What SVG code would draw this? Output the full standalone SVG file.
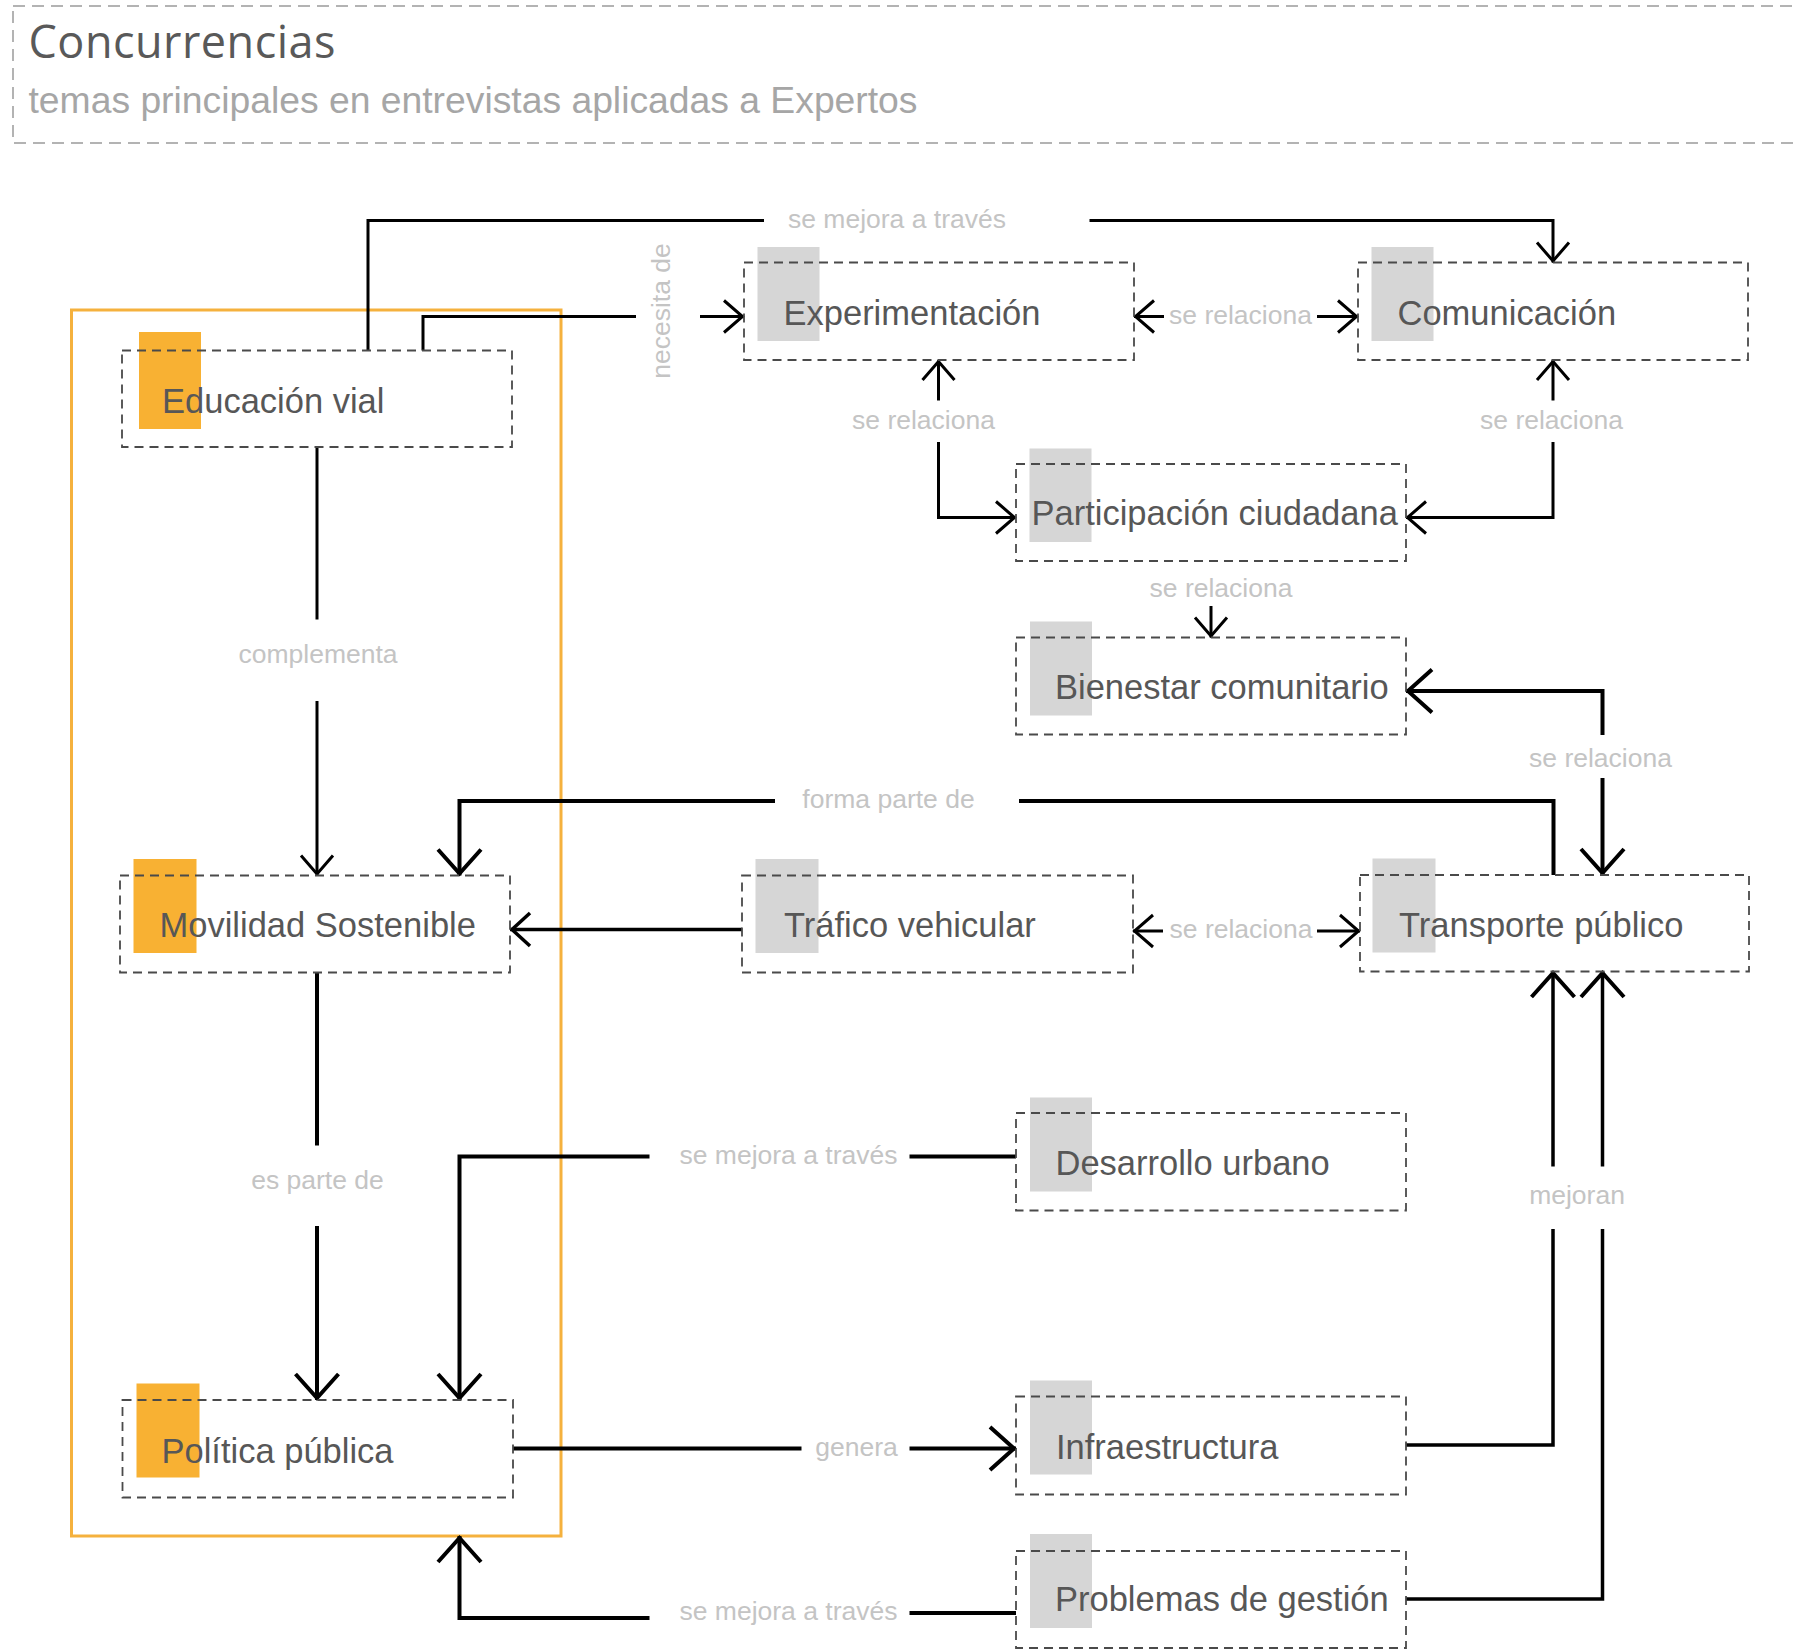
<svg xmlns="http://www.w3.org/2000/svg" width="1796" height="1652" viewBox="0 0 1796 1652">
  <style>
    .hdr { fill: none; stroke: #b3b3b3; stroke-width: 2; stroke-dasharray: 12 7; }
    .title { font-family: "Open Sans", "Noto Sans", sans-serif; font-size: 45px; fill: #595959; }
    .sub { font-family: "Liberation Sans", Arial, sans-serif; font-size: 37.3px; fill: #a6a6a6; }
    .group { fill: none; stroke: #f5b13d; stroke-width: 3; }
    .box { fill: none; stroke: #4a4a4a; stroke-width: 1.8; stroke-dasharray: 9 6; }
    .tag-o { fill: #f8b133; }
    .tag-g { fill: #d6d6d6; }
    .nt { font-family: "Liberation Sans", Arial, sans-serif; font-size: 34.5px; fill: #575757; }
    .lbl { font-family: "Liberation Sans", Arial, sans-serif; font-size: 26.5px; fill: #c4c4c4; text-anchor: middle; }
    .ln { fill: none; stroke: #000; stroke-width: 3; }
    .ln4 { stroke-width: 4; }
    .ln35 { stroke-width: 3.5; }
  </style>
  <defs>
    <marker id="arrS" markerUnits="userSpaceOnUse" viewBox="-30 -25 36 50" markerWidth="36" markerHeight="50" refX="0" refY="0" orient="auto-start-reverse" overflow="visible">
      <path d="M-20,-16 L-1.5,0 L-20,16" fill="none" stroke="#000" stroke-width="3"/>
    </marker>
    <marker id="arrM" markerUnits="userSpaceOnUse" viewBox="-30 -25 36 50" markerWidth="36" markerHeight="50" refX="0" refY="0" orient="auto-start-reverse" overflow="visible">
      <path d="M-20,-16.5 L-2,0 L-20,16.5" fill="none" stroke="#000" stroke-width="3.5"/>
    </marker>
    <marker id="arrL" markerUnits="userSpaceOnUse" viewBox="-34 -30 40 60" markerWidth="40" markerHeight="60" refX="0" refY="0" orient="auto-start-reverse" overflow="visible">
      <path d="M-26,-21.5 L-2,0 L-26,21.5" fill="none" stroke="#000" stroke-width="4"/>
    </marker>
  </defs>

  <!-- header -->
  <g id="header">
    <rect class="hdr" x="13" y="6" width="1800" height="137"/>
    <text class="title" x="28.5" y="58" textLength="307">Concurrencias</text>
    <text class="sub" x="28.5" y="113" textLength="889">temas principales en entrevistas aplicadas a Expertos</text>
  </g>

  <!-- orange grouping frame -->
  <rect id="grupo-politica" class="group" x="71.5" y="310" width="489.5" height="1226"/>

  <!-- connectors -->
  <g id="connectors">
    <!-- Educación vial -> Comunicación -->
    <path class="ln" d="M368,350.5 V220.5 H764"/>
    <path class="ln" d="M1089.5,220.5 H1553 V262.5" marker-end="url(#arrS)"/>
    <text class="lbl" x="897" y="227.5">se mejora a través</text>

    <!-- Educación vial -> Experimentación -->
    <path class="ln" d="M423,350.5 V316.5 H636"/>
    <path class="ln" d="M700,316.5 H744" marker-end="url(#arrS)"/>
    <text class="lbl" transform="translate(670,311) rotate(-90)">necesita de</text>

    <!-- Experimentación <-> Comunicación -->
    <path class="ln" d="M1134,316.5 H1164" marker-start="url(#arrS)"/>
    <path class="ln" d="M1317,316.5 H1358" marker-end="url(#arrS)"/>
    <text class="lbl" x="1240.5" y="323.5">se relaciona</text>

    <!-- Experimentación <-> Participación ciudadana -->
    <path class="ln" d="M938.5,360 V400.5" marker-start="url(#arrS)"/>
    <path class="ln" d="M938.5,442 V517.5 H1016" marker-end="url(#arrS)"/>
    <text class="lbl" x="923.5" y="429">se relaciona</text>

    <!-- Comunicación <-> Participación ciudadana -->
    <path class="ln" d="M1553,360 V400.5" marker-start="url(#arrS)"/>
    <path class="ln" d="M1553,442 V517.5 H1406" marker-end="url(#arrS)"/>
    <text class="lbl" x="1551.5" y="429">se relaciona</text>

    <!-- Participación ciudadana -> Bienestar comunitario -->
    <text class="lbl" x="1221" y="596.5">se relaciona</text>
    <path class="ln" d="M1211,606 V637.5" marker-end="url(#arrS)"/>

    <!-- Transporte público <-> Bienestar comunitario -->
    <path class="ln ln4" d="M1406,691 H1602.5 V735" marker-start="url(#arrL)"/>
    <path class="ln ln4" d="M1602.5,778 V875" marker-end="url(#arrL)"/>
    <text class="lbl" x="1600.5" y="767">se relaciona</text>

    <!-- Transporte público -> Movilidad Sostenible -->
    <path class="ln ln4" d="M1553.5,875 V801 H1019"/>
    <path class="ln ln4" d="M775,801 H459.5 V875.5" marker-end="url(#arrL)"/>
    <text class="lbl" x="888.5" y="808">forma parte de</text>

    <!-- Educación vial -> Movilidad Sostenible -->
    <path class="ln" d="M317,447 V619.5"/>
    <path class="ln" d="M317,701 V875.5" marker-end="url(#arrS)"/>
    <text class="lbl" x="318" y="663">complementa</text>

    <!-- Tráfico vehicular -> Movilidad Sostenible -->
    <path class="ln ln35" d="M742,929.5 H510" marker-end="url(#arrM)"/>

    <!-- Tráfico vehicular <-> Transporte público -->
    <path class="ln" d="M1133,931 H1163" marker-start="url(#arrS)"/>
    <path class="ln" d="M1317,931 H1360" marker-end="url(#arrS)"/>
    <text class="lbl" x="1241" y="938">se relaciona</text>

    <!-- Movilidad Sostenible -> Política pública -->
    <path class="ln ln4" d="M317,972 V1145.5"/>
    <path class="ln ln4" d="M317,1226 V1400" marker-end="url(#arrL)"/>
    <text class="lbl" x="317.5" y="1189">es parte de</text>

    <!-- Desarrollo urbano -> Política pública -->
    <path class="ln ln4" d="M1016,1156.5 H909.5"/>
    <path class="ln ln4" d="M649.5,1156.5 H459.5 V1400" marker-end="url(#arrL)"/>
    <text class="lbl" x="788.5" y="1163.5">se mejora a través</text>

    <!-- Política pública -> Infraestructura -->
    <path class="ln ln4" d="M513,1448.5 H801.5"/>
    <path class="ln ln4" d="M909.5,1448.5 H1016" marker-end="url(#arrL)"/>
    <text class="lbl" x="856.5" y="1455.5">genera</text>

    <!-- Problemas de gestión -> Política pública -->
    <path class="ln ln4" d="M1016,1613 H909.5"/>
    <path class="ln ln4" d="M649.5,1618 H459.5 V1536" marker-end="url(#arrL)"/>
    <text class="lbl" x="788.5" y="1620">se mejora a través</text>

    <!-- Infraestructura / Problemas de gestión -> Transporte público -->
    <path class="ln ln35" d="M1406,1445 H1553 V1229"/>
    <path class="ln ln35" d="M1553,1166.5 V971" marker-end="url(#arrL)"/>
    <path class="ln ln35" d="M1406,1599 H1602.5 V1229"/>
    <path class="ln ln35" d="M1602.5,1166.5 V971" marker-end="url(#arrL)"/>
    <text class="lbl" x="1577" y="1204">mejoran</text>
  </g>

  <!-- nodes -->
  <g id="educacion-vial">
    <rect class="tag-o" x="139" y="332" width="62" height="97"/>
    <rect class="box" x="122" y="350.5" width="390" height="96.5"/>
    <text class="nt" x="162" y="413">Educación vial</text>
  </g>
  <g id="experimentacion">
    <rect class="tag-g" x="757.5" y="247" width="62" height="94"/>
    <rect class="box" x="744" y="262.5" width="390" height="97.5"/>
    <text class="nt" x="783.5" y="325">Experimentación</text>
  </g>
  <g id="comunicacion">
    <rect class="tag-g" x="1371.5" y="247" width="62" height="94"/>
    <rect class="box" x="1358" y="262.5" width="390" height="97.5"/>
    <text class="nt" x="1397.5" y="325">Comunicación</text>
  </g>
  <g id="participacion-ciudadana">
    <rect class="tag-g" x="1029.5" y="448.5" width="62" height="93.5"/>
    <rect class="box" x="1016" y="464" width="390" height="97"/>
    <text class="nt" x="1031.5" y="525">Participación ciudadana</text>
  </g>
  <g id="bienestar-comunitario">
    <rect class="tag-g" x="1030" y="621.5" width="62" height="94"/>
    <rect class="box" x="1016" y="637.5" width="390" height="97"/>
    <text class="nt" x="1055" y="699">Bienestar comunitario</text>
  </g>
  <g id="movilidad-sostenible">
    <rect class="tag-o" x="133.5" y="859" width="63" height="94"/>
    <rect class="box" x="120" y="875.5" width="390" height="97"/>
    <text class="nt" x="159.5" y="936.5">Movilidad Sostenible</text>
  </g>
  <g id="trafico-vehicular">
    <rect class="tag-g" x="755.5" y="859" width="63" height="94"/>
    <rect class="box" x="742" y="875.5" width="391" height="97"/>
    <text class="nt" x="784" y="936.5">Tráfico vehicular</text>
  </g>
  <g id="transporte-publico">
    <rect class="tag-g" x="1372.5" y="858.5" width="63" height="94"/>
    <rect class="box" x="1360" y="875" width="389" height="96.5"/>
    <text class="nt" x="1399" y="936.5">Transporte público</text>
  </g>
  <g id="desarrollo-urbano">
    <rect class="tag-g" x="1030" y="1097.5" width="62" height="94"/>
    <rect class="box" x="1016" y="1113" width="390" height="97.5"/>
    <text class="nt" x="1055.5" y="1175">Desarrollo urbano</text>
  </g>
  <g id="politica-publica">
    <rect class="tag-o" x="136.5" y="1383.5" width="63" height="94"/>
    <rect class="box" x="122.5" y="1400" width="390.5" height="97.5"/>
    <text class="nt" x="161.5" y="1462.5">Política pública</text>
  </g>
  <g id="infraestructura">
    <rect class="tag-g" x="1030" y="1380.5" width="62" height="94"/>
    <rect class="box" x="1016" y="1396.5" width="390" height="98"/>
    <text class="nt" x="1056" y="1458.5">Infraestructura</text>
  </g>
  <g id="problemas-de-gestion">
    <rect class="tag-g" x="1030" y="1534" width="62" height="94"/>
    <rect class="box" x="1016" y="1551" width="390" height="97"/>
    <text class="nt" x="1055" y="1611">Problemas de gestión</text>
  </g>
</svg>
